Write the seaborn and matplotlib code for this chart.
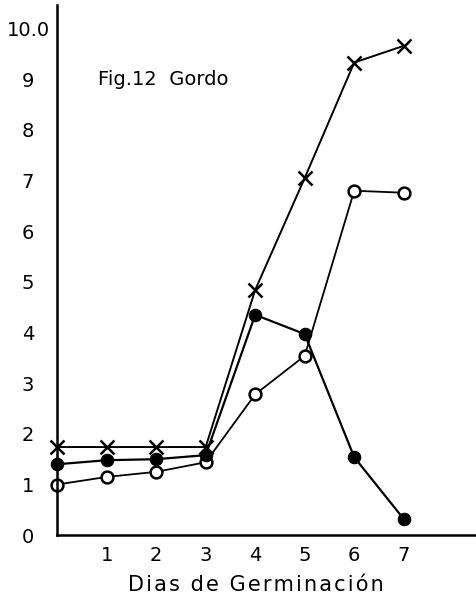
import matplotlib
matplotlib.use("Agg")
import matplotlib.pyplot as plt
import seaborn as sns
import pandas as pd

dias = [0, 1, 2, 3, 4, 5, 6, 7]
serie_cruz = [1.74, 1.74, 1.74, 1.74, 4.84, 7.05, 9.33, 9.66]
serie_llena = [1.40, 1.48, 1.50, 1.58, 4.35, 3.97, 1.54, 0.32]
serie_abierta = [1.00, 1.15, 1.25, 1.44, 2.78, 3.54, 6.80, 6.76]

x_ticks = [1, 2, 3, 4, 5, 6, 7]
y_ticks = [0, 1, 2, 3, 4, 5, 6, 7, 8, 9, 10]
y_labels = ["0", "1", "2", "3", "4", "5", "6", "7", "8", "9", "10.0"]
x_title = "Dias de Germinación"

sns.set_style("white")
plt.rcParams["font.family"] = ["DejaVu Sans"]
plt.rcParams["text.color"] = "black"

fig = plt.figure(figsize=(4.76, 6.02), dpi=100)
ax = fig.add_axes([0.12, 0.111, 0.88, 0.881])

df = pd.DataFrame({"dia": dias, "cruz": serie_cruz,
                   "llena": serie_llena, "abierta": serie_abierta})

sns.lineplot(data=df, x="dia", y="cruz", ax=ax, color="black", lw=1.4,
             marker="x", markersize=10.5, markeredgewidth=1.8,
             markeredgecolor="black", clip_on=False)
sns.lineplot(data=df, x="dia", y="abierta", ax=ax, color="black", lw=1.3,
             marker="o", markersize=8.5, markerfacecolor="white",
             markeredgecolor="black", markeredgewidth=1.8, clip_on=False)
sns.lineplot(data=df, x="dia", y="llena", ax=ax, color="black", lw=1.6,
             marker="o", markersize=9, markerfacecolor="black",
             markeredgecolor="black", clip_on=False)

ax.set_xlim(0, 8.46)
ax.set_ylim(0, 10.47)
ax.set_xticks(x_ticks)
ax.set_xticklabels([str(t) for t in x_ticks], fontsize=14)
ax.set_yticks(y_ticks)
ax.set_yticklabels(y_labels, fontsize=14, ha="center")
ax.tick_params(axis="both", direction="in", length=9, width=1.6,
               color="black", labelcolor="black")
ax.tick_params(axis="x", pad=8)
ax.tick_params(axis="y", pad=21)

for side in ("top", "right"):
    ax.spines[side].set_visible(False)
for side in ("left", "bottom"):
    ax.spines[side].set_linewidth(1.8)
    ax.spines[side].set_color("black")

# widen the letter spacing of the axis title with hair spaces
spaced = " \u2009".join("\u200a".join(word) for word in x_title.split(" "))
ax.set_xlabel(spaced, fontsize=15, color="black")
ax.xaxis.set_label_coords(0.475, -0.075)
ax.set_ylabel("")
ax.text(0.82, 9.0, "Fig.12  Gordo", fontsize=14, va="center", ha="left",
        color="black")

fig.savefig("out.png", dpi=100, facecolor="white")
